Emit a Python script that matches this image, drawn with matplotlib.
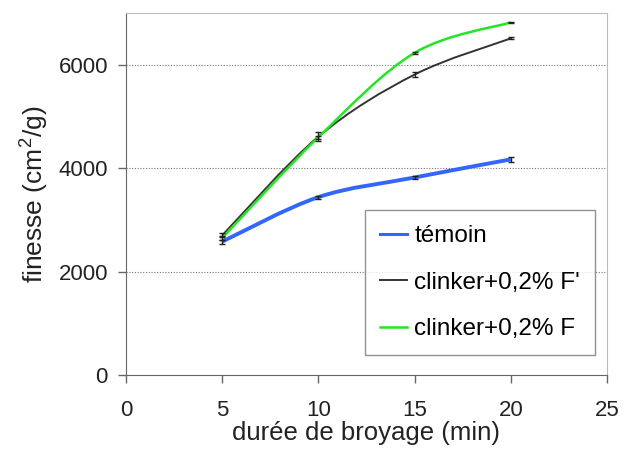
import numpy as np
import matplotlib
matplotlib.use('Agg')
import matplotlib.pyplot as plt
from matplotlib.path import Path
from matplotlib.patches import PathPatch
from matplotlib.lines import Line2D

plt.rcParams.update({
    'font.family': ['Liberation Sans', 'DejaVu Sans'],
    'font.size': 15,
    'mathtext.fontset': 'custom',
    'mathtext.rm': 'Liberation Sans',
})

# ---- data ----
duree = [5, 10, 15, 20]
temoin = [2580, 3440, 3820, 4170]
temoin_err = [40, 30, 30, 50]
clinker_fp = [2700, 4610, 5810, 6510]
clinker_fp_err = [40, 80, 50, 20]
clinker_f = [2650, 4600, 6230, 6820]
clinker_f_err = [30, 30, 15, 15]

labels = ['témoin', "clinker+0,2% F'", 'clinker+0,2% F']
colors = ['#3366ff', '#333333', '#22e622']
widths = [2.8, 1.4, 1.8]


def smooth_path(xs, ys, t=1/6):
    """Excel-like smoothed line as cubic Bezier segments through the points."""
    xs = np.asarray(xs, float)
    ys = np.asarray(ys, float)
    verts = [(xs[0], ys[0])]
    codes = [Path.MOVETO]
    n = len(xs)
    for i in range(n - 1):
        p0 = np.array([xs[max(i - 1, 0)], ys[max(i - 1, 0)]])
        p1 = np.array([xs[i], ys[i]])
        p2 = np.array([xs[i + 1], ys[i + 1]])
        p3 = np.array([xs[min(i + 2, n - 1)], ys[min(i + 2, n - 1)]])
        c1 = p1 + (p2 - p0) * t
        c2 = p2 - (p3 - p1) * t
        verts += [tuple(c1), tuple(c2), tuple(p2)]
        codes += [Path.CURVE4] * 3
    return Path(verts, codes)


fig = plt.figure(figsize=(6.25, 4.5), dpi=100)
ax = fig.add_axes([0.2016, 0.1667, 0.7696, 0.8043])

series = [(temoin, temoin_err), (clinker_fp, clinker_fp_err), (clinker_f, clinker_f_err)]
for (vals, errs), col, lw in zip(series, colors, widths):
    ax.add_patch(PathPatch(smooth_path(duree, vals), facecolor='none',
                           edgecolor=col, linewidth=lw, zorder=3))
    ax.errorbar(duree, vals, yerr=errs, fmt='none', ecolor='#222222',
                elinewidth=1.0, capsize=2.5, capthick=1.0, zorder=4)

ax.set_xlim(0, 25)
ax.set_ylim(0, 7000)
ax.set_xticks([0, 5, 10, 15, 20, 25])
ax.set_yticks([0, 2000, 4000, 6000])
ax.tick_params(direction='out', length=6, width=1, color='#666666',
               labelsize=16, labelcolor='#222222')
ax.tick_params(axis='x', pad=12)
ax.tick_params(axis='y', pad=7)
for y in [2000, 4000, 6000]:
    ax.axhline(y, color='#777777', linestyle=(0, (1, 1.5)), linewidth=0.8, zorder=1)

ax.spines['left'].set_color('#666666')
ax.spines['bottom'].set_color('#666666')
ax.spines['top'].set_color('#bbbbbb')
ax.spines['right'].set_color('#bbbbbb')

ax.set_xlabel('durée de broyage (min)', fontsize=18.5, color='#222222', labelpad=0)
ax.set_ylabel(r'finesse (cm$^{\mathregular{2}}$/g)', fontsize=19, color='#222222', labelpad=6)

handles = [Line2D([0], [0], color=c, lw=min(w, 2.2)) for c, w in zip(colors, widths)]
leg = ax.legend(handles, labels, loc='lower right', bbox_to_anchor=(0.975, 0.055),
                frameon=True, fancybox=False, edgecolor='#777777', fontsize=17.5,
                handlelength=1.1, handletextpad=0.3, labelspacing=1.0,
                borderpad=0.62, borderaxespad=0)
leg.get_frame().set_linewidth(1.0)

fig.savefig('out.png', dpi=100)
